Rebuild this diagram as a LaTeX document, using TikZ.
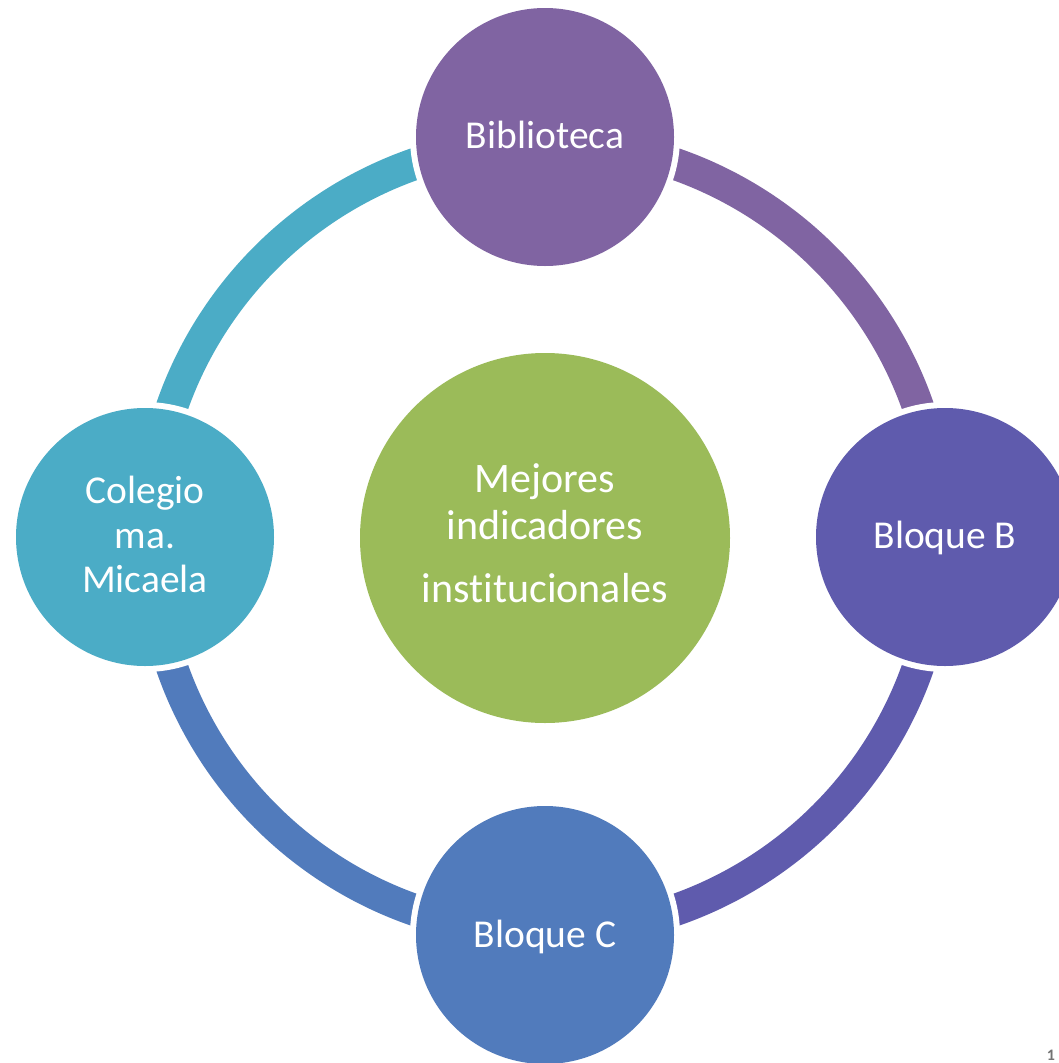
\documentclass[tikz,border=0pt]{standalone}
\usepackage{fontspec}
\setmainfont[RawFeature={-liga;-clig;-dlig}]{Carlito}
\definecolor{cTop}{HTML}{8064A2}
\definecolor{cRight}{HTML}{5F5BAD}
\definecolor{cBottom}{HTML}{517BBC}
\definecolor{cLeft}{HTML}{4BACC6}
\definecolor{cCenter}{HTML}{9BBB59}
\begin{document}
\begin{tikzpicture}[x=1pt,y=-1pt,
  ring/.style={line width=32pt},
  gapdisc/.style={circle,fill=white,draw=none,minimum size=270pt,inner sep=0pt},
  disc/.style={circle,draw=none,minimum size=258pt,inner sep=0pt},
  bigdisc/.style={circle,draw=none,minimum size=370pt,inner sep=0pt},
  lbl/.style={text=white,font=\fontsize{39.5}{45}\selectfont,anchor=base,inner sep=0pt},
  clbl/.style={text=white,font=\fontsize{42}{47}\selectfont,anchor=base,inner sep=0pt}]
\useasboundingbox (0,0) rectangle (1059,1063);
\fill[white] (0,0) rectangle (1059,1063);
\coordinate (o) at (545,537);
% ring arcs
\draw[ring,cTop] (o) ++(0,-395) arc[start angle=-90,end angle=0,radius=395];
\draw[ring,cRight] (o) ++(395,0) arc[start angle=0,end angle=90,radius=395];
\draw[ring,cBottom] (o) ++(0,395) arc[start angle=90,end angle=180,radius=395];
\draw[ring,cLeft] (o) ++(-395,0) arc[start angle=180,end angle=270,radius=395];
% white gaps
\node[gapdisc] (gtop) at (545,137) {};
\node[gapdisc] (gright) at (945,537) {};
\node[gapdisc] (gbottom) at (545,935) {};
\node[gapdisc] (gleft) at (145,537) {};
% circles
\node[disc,fill=cTop] (bib) at (545,137) {};
\node[disc,fill=cRight] (bb) at (945,537) {};
\node[disc,fill=cBottom] (bc) at (545,935) {};
\node[disc,fill=cLeft] (cm) at (145,537) {};
\node[bigdisc,fill=cCenter] (mi) at (545,538) {};
% labels
\node[lbl] (bibt) at (545,148) {Biblioteca};
\node[lbl] (bbt) at (945,548) {Bloque B};
\node[lbl] (bct) at (545,947) {Bloque C};
\node[lbl] (cm1) at (145,503) {Colegio};
\node[lbl] (cm2) at (145,548) {ma.};
\node[lbl] (cm3) at (145,592) {Micaela};
\node[clbl] (mi1) at (545,492) {Mejores};
\node[clbl] (mi2) at (545,539) {indicadores};
\node[clbl] (mi3) at (545,602) {institucionales};
\node[text=black!55,font=\bfseries\fontsize{16}{18}\selectfont,anchor=base,inner sep=0pt] (pg) at (1051,1060) {1};
\end{tikzpicture}
\end{document}
